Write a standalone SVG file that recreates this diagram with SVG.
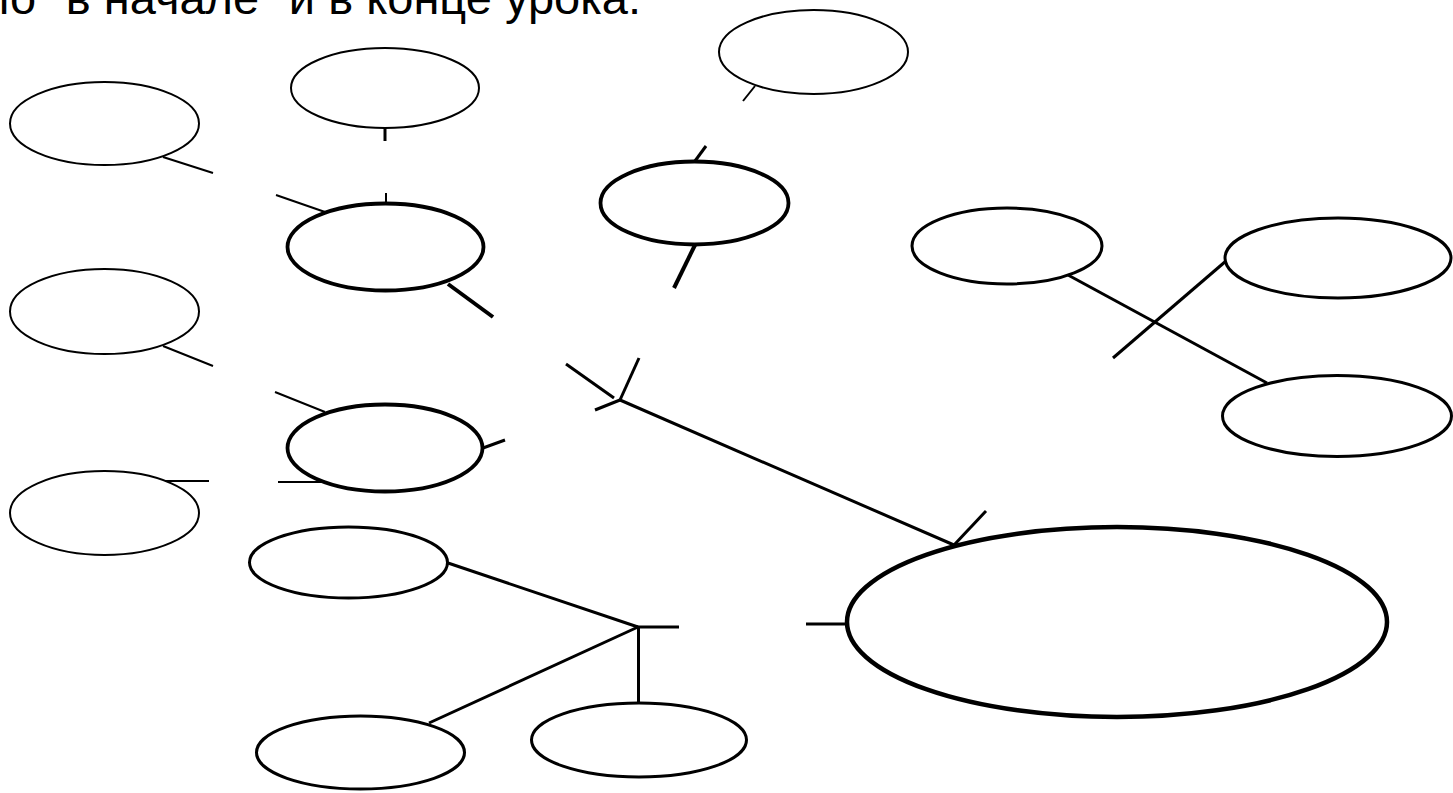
<svg xmlns="http://www.w3.org/2000/svg" width="1453" height="793" viewBox="0 0 1453 793">
<style>
.thin{fill:none;stroke:#000;stroke-width:2}
.mid{fill:none;stroke:#000;stroke-width:3}
.thick{fill:none;stroke:#000;stroke-width:3.8}
.big{fill:none;stroke:#000;stroke-width:4.5}
.c1{stroke:#000;stroke-width:2;fill:none}
.c2{stroke:#000;stroke-width:3;fill:none}
.c3{stroke:#000;stroke-width:4;fill:none}
.title{font-family:"Liberation Sans",Arial,sans-serif;font-size:47px;fill:#000}
</style>
<rect width="1453" height="793" fill="#fff"/>
<text class="title" x="641" y="14" text-anchor="end">ло" в начале" и в конце урока.</text>
<g id="n1"><ellipse class="thin" cx="104.5" cy="123.5" rx="94.5" ry="41.5"/></g>
<g id="n2"><ellipse class="thin" cx="385" cy="88" rx="94" ry="40"/></g>
<g id="n3"><ellipse class="thick" cx="385.5" cy="247" rx="98" ry="43.5"/></g>
<g id="n4"><ellipse class="thin" cx="104.5" cy="311.5" rx="94.5" ry="42.5"/></g>
<g id="n5"><ellipse class="thick" cx="385" cy="448" rx="97.5" ry="43.5"/></g>
<g id="n6"><ellipse class="thin" cx="104.5" cy="513" rx="94.5" ry="42"/></g>
<g id="n7"><ellipse class="thin" cx="813.5" cy="52" rx="94.5" ry="42"/></g>
<g id="n8"><ellipse class="thick" cx="694.5" cy="203" rx="94" ry="41.5"/></g>
<g id="n9"><ellipse class="mid" cx="1007" cy="246" rx="95" ry="38"/></g>
<g id="n10"><ellipse class="mid" cx="1338" cy="258" rx="113" ry="40"/></g>
<g id="n11"><ellipse class="mid" cx="1337" cy="416" rx="114.5" ry="40.5"/></g>
<g id="n12"><ellipse class="mid" cx="348.5" cy="562.5" rx="99" ry="35.5"/></g>
<g id="n13"><ellipse class="mid" cx="360.5" cy="752.5" rx="104" ry="36.5"/></g>
<g id="n14"><ellipse class="mid" cx="639" cy="740" rx="107.5" ry="37"/></g>
<g id="n15"><ellipse class="big" cx="1117" cy="622" rx="270" ry="95"/></g>
<g id="connectors">
<line class="c1" x1="163" y1="157" x2="213" y2="173"/>
<line class="c2" x1="385" y1="128" x2="385" y2="141"/>
<line class="c1" x1="386" y1="193" x2="386" y2="204"/>
<line class="c1" x1="276" y1="195" x2="325" y2="212"/>
<line class="c3" x1="448" y1="284" x2="493" y2="317"/>
<line class="c1" x1="163" y1="346" x2="213" y2="366"/>
<line class="c1" x1="275" y1="392" x2="325" y2="412"/>
<line class="c2" x1="483" y1="448" x2="505" y2="440"/>
<line class="c1" x1="278" y1="482" x2="325" y2="482"/>
<line class="c1" x1="165" y1="481" x2="209" y2="481"/>
<line class="c1" x1="755" y1="86" x2="743" y2="101"/>
<line class="c2" x1="695" y1="161" x2="706" y2="146"/>
<line class="c3" x1="695" y1="245" x2="674" y2="288"/>
<line class="c2" x1="566" y1="364" x2="614" y2="398"/>
<line class="c2" x1="639" y1="358" x2="620" y2="400"/>
<line class="c2" x1="595" y1="410" x2="620" y2="400"/>
<line class="c2" x1="620" y1="400" x2="954" y2="545"/>
<line class="c2" x1="954" y1="545" x2="986" y2="511"/>
<line class="c2" x1="806" y1="624" x2="847" y2="624"/>
<line class="c2" x1="1068" y1="275" x2="1267" y2="383"/>
<line class="c2" x1="1226" y1="261" x2="1113" y2="358"/>
<line class="c2" x1="448" y1="563" x2="638" y2="627"/>
<line class="c2" x1="429" y1="723" x2="638" y2="627"/>
<line class="c2" x1="638.5" y1="627" x2="638.5" y2="703"/>
<line class="c2" x1="637" y1="627" x2="679" y2="627"/>
</g>
</svg>
